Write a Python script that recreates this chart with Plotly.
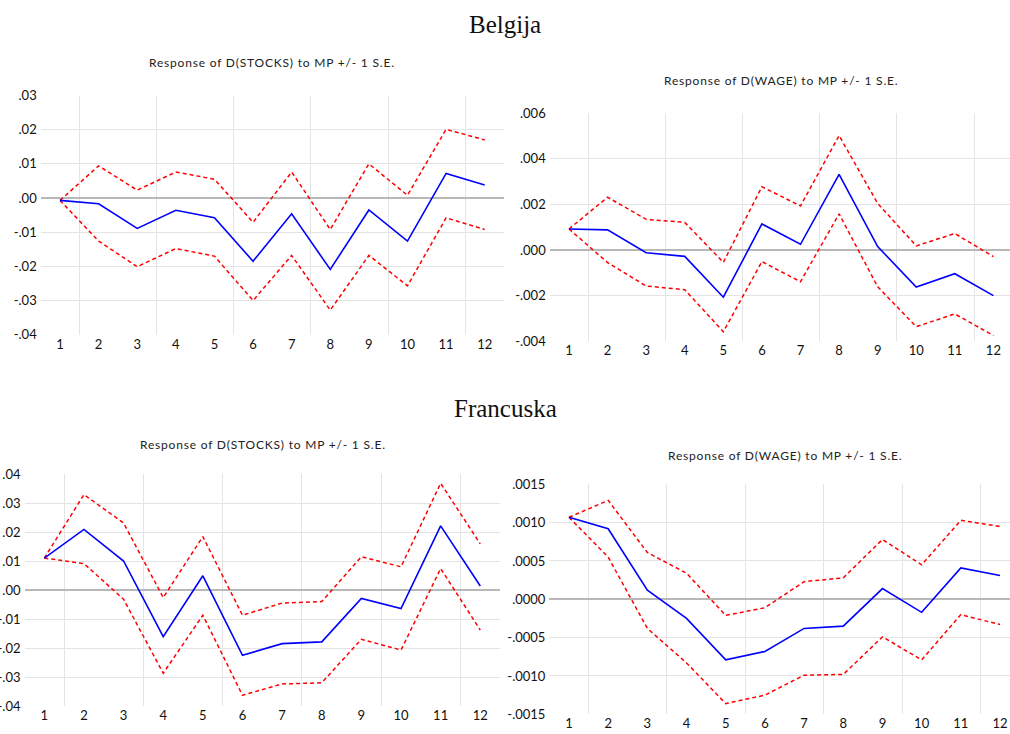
import plotly.graph_objects as go

W, H = 1010, 734
periods = list(range(1, 13))

# Belgija - D(STOCKS)
be_stocks_resp = [-0.0007, -0.0017, -0.0089, -0.0036, -0.0058, -0.0185, -0.0046, -0.0209, -0.0035, -0.0126, 0.0072, 0.0038]
be_stocks_up = [-0.0007, 0.0094, 0.0023, 0.0076, 0.0055, -0.0071, 0.0076, -0.0092, 0.0100, 0.0008, 0.0201, 0.0170]
be_stocks_lo = [-0.0007, -0.0126, -0.0201, -0.0148, -0.0170, -0.0300, -0.0168, -0.0328, -0.0168, -0.0257, -0.0058, -0.0092]

# Belgija - D(WAGE)
be_wage_resp = [0.00092, 0.00088, -0.00012, -0.00028, -0.00207, 0.00114, 0.00025, 0.00331, 0.00015, -0.00162, -0.00104, -0.00200]
be_wage_up = [0.00092, 0.00231, 0.00134, 0.00121, -0.00054, 0.00277, 0.00193, 0.00501, 0.00204, 0.00018, 0.00072, -0.00029]
be_wage_lo = [0.00092, -0.00055, -0.00158, -0.00174, -0.00358, -0.00051, -0.00139, 0.00158, -0.00161, -0.00336, -0.00280, -0.00375]

# Francuska - D(STOCKS)
fr_stocks_resp = [0.0110, 0.0209, 0.0100, -0.0161, 0.0049, -0.0225, -0.0185, -0.0179, -0.0029, -0.0064, 0.0221, 0.0014]
fr_stocks_up = [0.0110, 0.0329, 0.0231, -0.0026, 0.0184, -0.0087, -0.0045, -0.0040, 0.0115, 0.0080, 0.0368, 0.0159]
fr_stocks_lo = [0.0110, 0.0091, -0.0032, -0.0287, -0.0087, -0.0363, -0.0324, -0.0320, -0.0170, -0.0207, 0.0074, -0.0138]

# Francuska - D(WAGE)
fr_wage_resp = [0.00107, 0.00092, 0.00012, -0.00025, -0.00079, -0.00068, -0.00038, -0.00035, 0.00014, -0.00017, 0.00041, 0.00031]
fr_wage_up = [0.00107, 0.00129, 0.00061, 0.00034, -0.00021, -0.00011, 0.00023, 0.00028, 0.00078, 0.00045, 0.00103, 0.00095]
fr_wage_lo = [0.00107, 0.00055, -0.00038, -0.00083, -0.00136, -0.00125, -0.00099, -0.00098, -0.00049, -0.00079, -0.00020, -0.00033]

# tick labels
be_stocks_ticks = [0.03, 0.02, 0.01, 0.0, -0.01, -0.02, -0.03, -0.04]
be_stocks_labels = [".03", ".02", ".01", ".00", "-.01", "-.02", "-.03", "-.04"]
be_wage_ticks = [0.006, 0.004, 0.002, 0.0, -0.002, -0.004]
be_wage_labels = [".006", ".004", ".002", ".000", "-.002", "-.004"]
fr_stocks_ticks = [0.04, 0.03, 0.02, 0.01, 0.0, -0.01, -0.02, -0.03, -0.04]
fr_stocks_labels = [".04", ".03", ".02", ".01", ".00", "-.01", "-.02", "-.03", "-.04"]
fr_wage_ticks = [0.0015, 0.0010, 0.0005, 0.0, -0.0005, -0.0010, -0.0015]
fr_wage_labels = [".0015", ".0010", ".0005", ".0000", "-.0005", "-.0010", "-.0015"]

panel_title = "Response of D({}) to MP +/- 1 S.E."
country_titles = ["Belgija", "Francuska"]

# panel placement in pixels
panels = [
    dict(resp=be_stocks_resp, up=be_stocks_up, lo=be_stocks_lo, ticks=be_stocks_ticks, labels=be_stocks_labels,
         var="STOCKS", px=(40.7, 504.0), py=(95.5, 334.7), xr=(0.5, 12.5), yr=(-0.04, 0.03), ty=63, tx=272),
    dict(resp=be_wage_resp, up=be_wage_up, lo=be_wage_lo, ticks=be_wage_ticks, labels=be_wage_labels,
         var="WAGE", px=(549.7, 1010.0), py=(113.0, 341.3), xr=(0.5, 12.43), yr=(-0.004, 0.006), ty=80.5, tx=781),
    dict(resp=fr_stocks_resp, up=fr_stocks_up, lo=fr_stocks_lo, ticks=fr_stocks_ticks, labels=fr_stocks_labels,
         var="STOCKS", px=(24.5, 500.1), py=(474.0, 706.0), xr=(0.5, 12.5), yr=(-0.04, 0.04), ty=444, tx=262.5),
    dict(resp=fr_wage_resp, up=fr_wage_up, lo=fr_wage_lo, ticks=fr_wage_ticks, labels=fr_wage_labels,
         var="WAGE", px=(549.4, 1010.0), py=(484.3, 714.3), xr=(0.5, 12.255), yr=(-0.0015, 0.0015), ty=455.5, tx=785),
]

fig = go.Figure()
tick_font = dict(family="Lato, Open Sans, sans-serif", size=13, color="#111111")
annotations = []

for i, p in enumerate(panels, start=1):
    xa = "x" if i == 1 else f"x{i}"
    ya = "y" if i == 1 else f"y{i}"
    for series, color, dash, width in [(p["up"], "#ff0000", "4px,3px", 1.5),
                                       (p["lo"], "#ff0000", "4px,3px", 1.5),
                                       (p["resp"], "#0000ff", "solid", 1.6)]:
        fig.add_trace(go.Scatter(x=periods, y=series, mode="lines", xaxis=xa, yaxis=ya,
                                 line=dict(color=color, dash=dash, width=width),
                                 showlegend=False, hoverinfo="skip"))
    xd = [p["px"][0] / W, p["px"][1] / W]
    yd = [1 - p["py"][1] / H, 1 - p["py"][0] / H]
    fig.update_layout({
        ("xaxis" if i == 1 else f"xaxis{i}"): dict(
            domain=xd, range=list(p["xr"]), anchor=ya, tickvals=periods,
            ticktext=[str(v) for v in periods], showgrid=False, zeroline=False,
            showline=False, ticks="", tickfont=tick_font, automargin=False,
            minor=dict(tickvals=[1.5, 3.5, 5.5, 7.5, 9.5, 11.5], showgrid=True,
                       gridcolor="#e4e4e4", gridwidth=1, ticks=""),
            fixedrange=True),
        ("yaxis" if i == 1 else f"yaxis{i}"): dict(
            domain=yd, range=list(p["yr"]), anchor=xa, tickvals=p["ticks"], ticktext=p["labels"],
            showgrid=True, gridcolor="#e4e4e4", gridwidth=1, zeroline=True,
            zerolinecolor="#b8b8b8", zerolinewidth=2, showline=False, ticks="",
            ticklabelstandoff=3,
            tickfont=tick_font, automargin=False, fixedrange=True),
    })
    annotations.append(dict(text="<span style='letter-spacing:0.8px'>" + panel_title.format(p["var"]) + "</span>",
                            x=p["tx"] / W, y=1 - p["ty"] / H,
                            xref="paper", yref="paper", showarrow=False, xanchor="center", yanchor="middle",
                            font=dict(family="Lato, Open Sans, sans-serif", size=12, color="#222222")))

for title, ty in zip(country_titles, [24, 408]):
    annotations.append(dict(text=title, x=505 / W, y=1 - ty / H, xref="paper", yref="paper",
                            showarrow=False, xanchor="center", yanchor="middle",
                            font=dict(family="Liberation Serif, Times New Roman, serif", size=25, color="#111111")))

fig.update_layout(width=W, height=H, margin=dict(l=0, r=0, t=0, b=0),
                  paper_bgcolor="white", plot_bgcolor="white", template="none",
                  annotations=annotations, showlegend=False)

fig.write_html("out.html", config={"displayModeBar": False},
               post_script="document.body.style.margin='0';document.body.style.overflow='hidden';")
